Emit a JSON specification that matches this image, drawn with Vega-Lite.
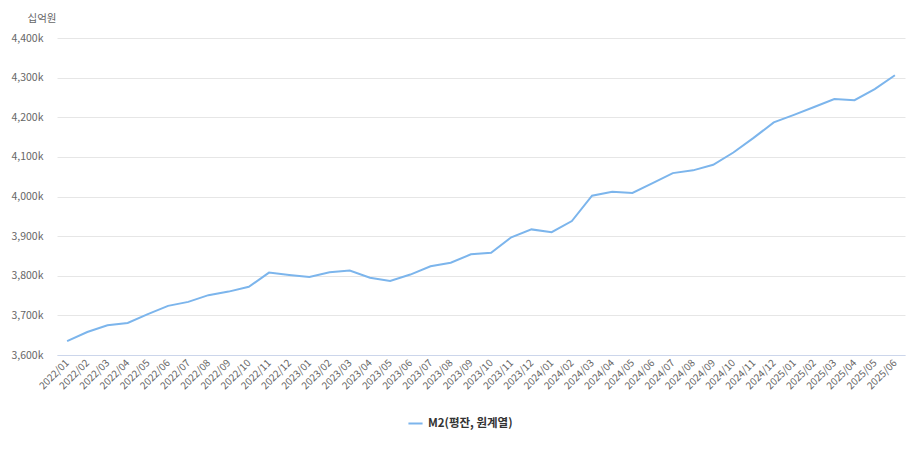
{
  "$schema": "https://vega.github.io/schema/vega-lite/v6.json",
  "autosize": "none",
  "width": 848,
  "height": 317,
  "padding": {"left": 57, "top": 38, "right": 13, "bottom": 103},
  "background": "white",
  "config": {
    "font": "Noto Sans CJK KR",
    "view": {"stroke": null}
  },
  "data": {
    "values": [
      {"month": "2022/01", "value": 3635000, "series": "M2(평잔, 원계열)"},
      {"month": "2022/02", "value": 3658000, "series": "M2(평잔, 원계열)"},
      {"month": "2022/03", "value": 3675000, "series": "M2(평잔, 원계열)"},
      {"month": "2022/04", "value": 3681000, "series": "M2(평잔, 원계열)"},
      {"month": "2022/05", "value": 3703000, "series": "M2(평잔, 원계열)"},
      {"month": "2022/06", "value": 3724000, "series": "M2(평잔, 원계열)"},
      {"month": "2022/07", "value": 3734000, "series": "M2(평잔, 원계열)"},
      {"month": "2022/08", "value": 3751000, "series": "M2(평잔, 원계열)"},
      {"month": "2022/09", "value": 3760000, "series": "M2(평잔, 원계열)"},
      {"month": "2022/10", "value": 3772000, "series": "M2(평잔, 원계열)"},
      {"month": "2022/11", "value": 3808000, "series": "M2(평잔, 원계열)"},
      {"month": "2022/12", "value": 3802000, "series": "M2(평잔, 원계열)"},
      {"month": "2023/01", "value": 3797000, "series": "M2(평잔, 원계열)"},
      {"month": "2023/02", "value": 3809000, "series": "M2(평잔, 원계열)"},
      {"month": "2023/03", "value": 3813000, "series": "M2(평잔, 원계열)"},
      {"month": "2023/04", "value": 3795000, "series": "M2(평잔, 원계열)"},
      {"month": "2023/05", "value": 3787000, "series": "M2(평잔, 원계열)"},
      {"month": "2023/06", "value": 3803000, "series": "M2(평잔, 원계열)"},
      {"month": "2023/07", "value": 3824000, "series": "M2(평잔, 원계열)"},
      {"month": "2023/08", "value": 3833000, "series": "M2(평잔, 원계열)"},
      {"month": "2023/09", "value": 3854000, "series": "M2(평잔, 원계열)"},
      {"month": "2023/10", "value": 3858000, "series": "M2(평잔, 원계열)"},
      {"month": "2023/11", "value": 3897000, "series": "M2(평잔, 원계열)"},
      {"month": "2023/12", "value": 3917000, "series": "M2(평잔, 원계열)"},
      {"month": "2024/01", "value": 3910000, "series": "M2(평잔, 원계열)"},
      {"month": "2024/02", "value": 3938000, "series": "M2(평잔, 원계열)"},
      {"month": "2024/03", "value": 4002000, "series": "M2(평잔, 원계열)"},
      {"month": "2024/04", "value": 4012000, "series": "M2(평잔, 원계열)"},
      {"month": "2024/05", "value": 4009000, "series": "M2(평잔, 원계열)"},
      {"month": "2024/06", "value": 4034000, "series": "M2(평잔, 원계열)"},
      {"month": "2024/07", "value": 4059000, "series": "M2(평잔, 원계열)"},
      {"month": "2024/08", "value": 4066000, "series": "M2(평잔, 원계열)"},
      {"month": "2024/09", "value": 4080000, "series": "M2(평잔, 원계열)"},
      {"month": "2024/10", "value": 4111000, "series": "M2(평잔, 원계열)"},
      {"month": "2024/11", "value": 4148000, "series": "M2(평잔, 원계열)"},
      {"month": "2024/12", "value": 4187000, "series": "M2(평잔, 원계열)"},
      {"month": "2025/01", "value": 4206000, "series": "M2(평잔, 원계열)"},
      {"month": "2025/02", "value": 4226000, "series": "M2(평잔, 원계열)"},
      {"month": "2025/03", "value": 4246000, "series": "M2(평잔, 원계열)"},
      {"month": "2025/04", "value": 4243000, "series": "M2(평잔, 원계열)"},
      {"month": "2025/05", "value": 4271000, "series": "M2(평잔, 원계열)"},
      {"month": "2025/06", "value": 4306000, "series": "M2(평잔, 원계열)"}
    ]
  },
  "mark": {"type": "line", "strokeWidth": 2, "interpolate": "linear"},
  "encoding": {
    "x": {
      "field": "month",
      "type": "ordinal",
      "sort": null,
      "scale": {"type": "point", "padding": 0.5},
      "axis": {
        "title": null,
        "labelAngle": -45,
        "labelAlign": "right",
        "labelBaseline": "middle",
        "labelFontSize": 10,
        "labelColor": "#666666",
        "labelPadding": 6,
        "ticks": false,
        "domainColor": "#ccd6eb",
        "domainWidth": 1,
        "grid": false,
        "labelOverlap": false
      }
    },
    "y": {
      "field": "value",
      "type": "quantitative",
      "scale": {"domain": [3600000, 4400000], "nice": false, "zero": false},
      "axis": {
        "values": [3600000, 3700000, 3800000, 3900000, 4000000, 4100000, 4200000, 4300000, 4400000],
        "labelExpr": "format(datum.value / 1000, ',') + 'k'",
        "labelFontSize": 10.5,
        "labelColor": "#666666",
        "labelPadding": 14,
        "ticks": false,
        "domain": false,
        "gridColor": "#e6e6e6",
        "gridWidth": 1,
        "title": "십억원",
        "titleAngle": 0,
        "titleAlign": "left",
        "titleBaseline": "middle",
        "titleX": -30,
        "titleY": -20,
        "titleFontSize": 10.5,
        "titleFontWeight": "normal",
        "titleColor": "#666666"
      }
    },
    "color": {
      "field": "series",
      "type": "nominal",
      "scale": {"range": ["#7cb5ec"]},
      "legend": {
        "title": null,
        "orient": "none",
        "legendX": 350,
        "legendY": 377,
        "direction": "horizontal",
        "symbolType": "stroke",
        "symbolSize": 200,
        "symbolStrokeWidth": 2,
        "labelFontSize": 11.5,
        "labelFontWeight": "bold",
        "labelColor": "#333333"
      }
    }
  }
}
